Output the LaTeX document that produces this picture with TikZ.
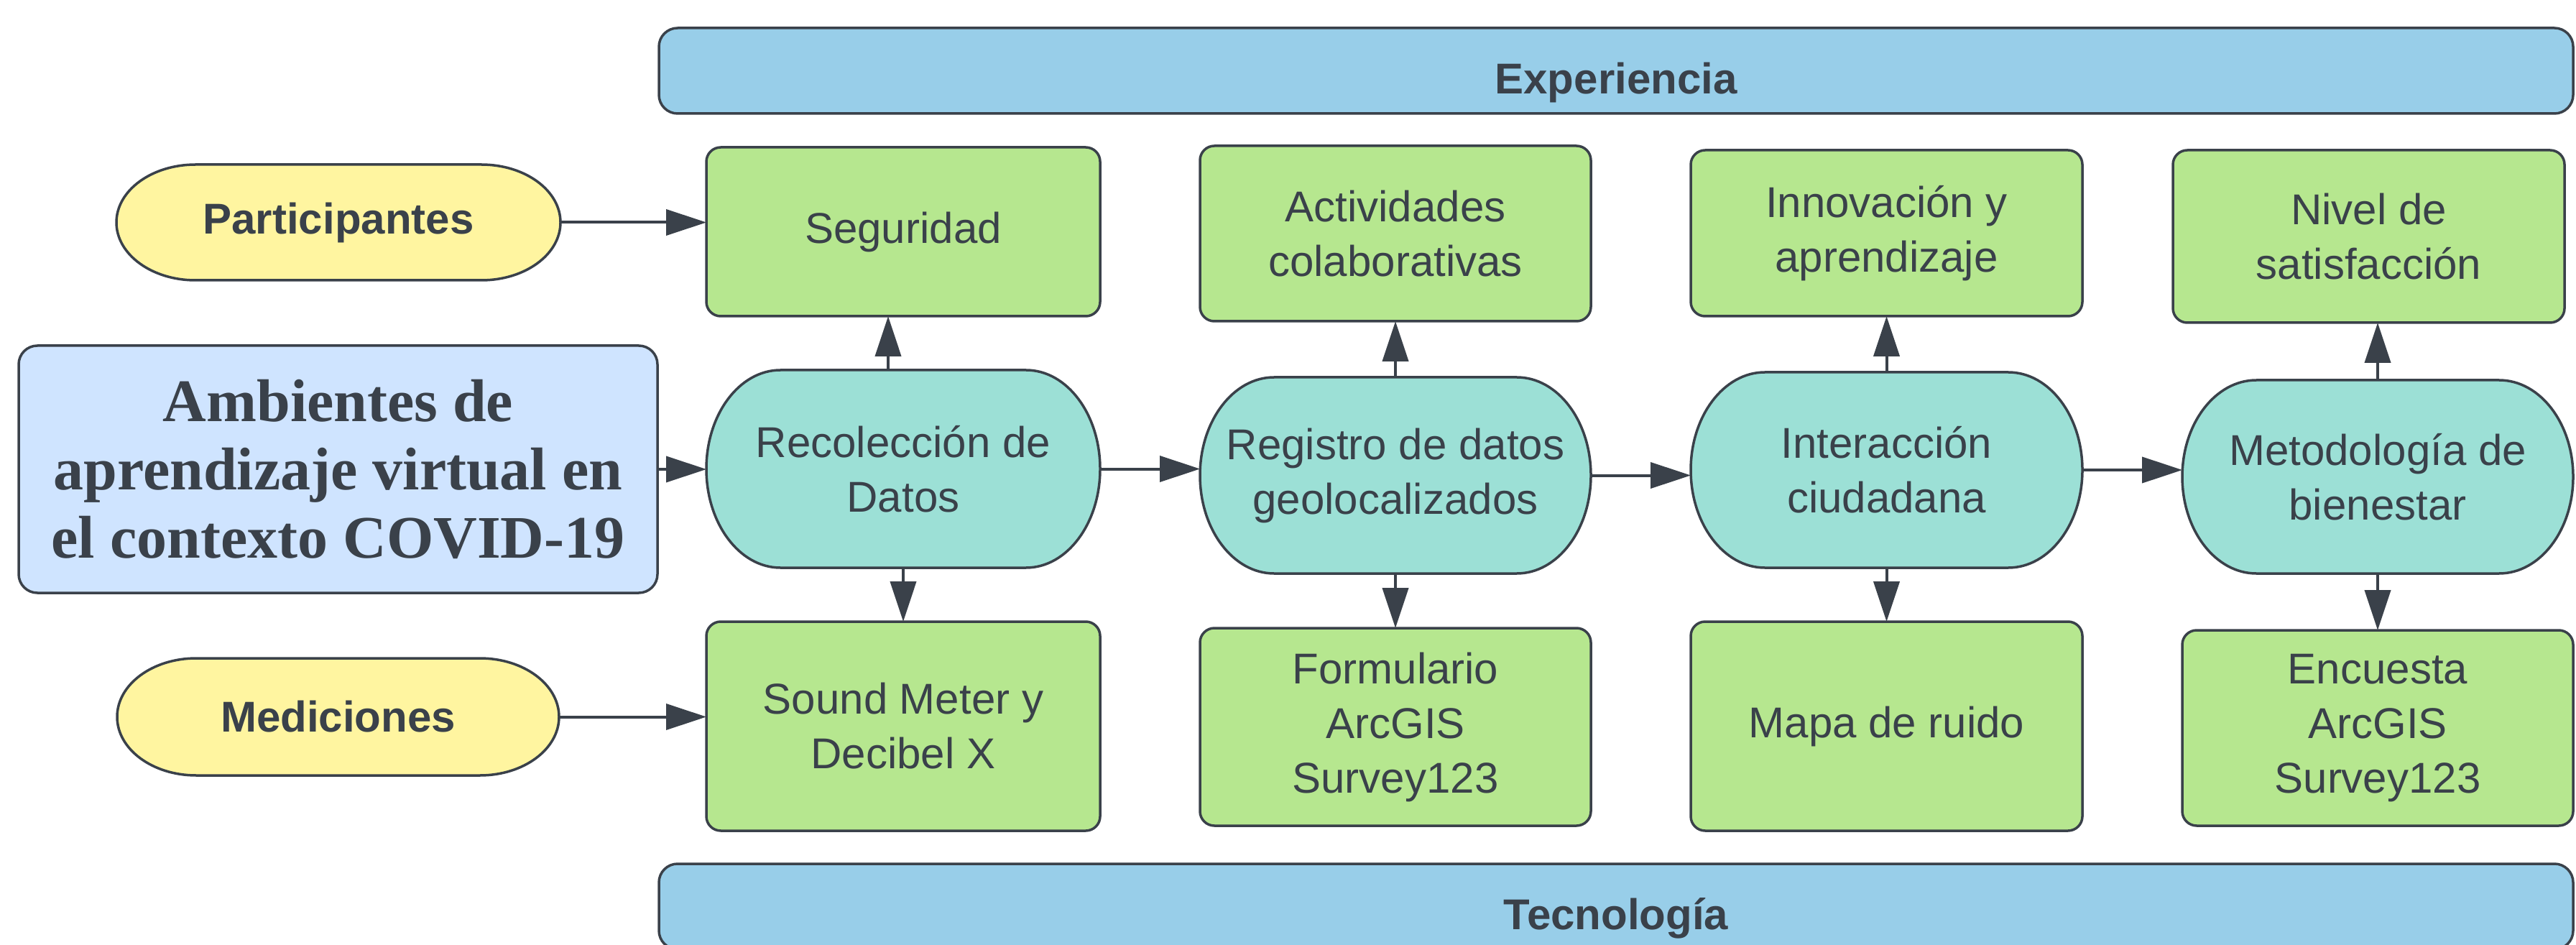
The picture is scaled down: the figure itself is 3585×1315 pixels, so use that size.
\documentclass[tikz,border=0pt]{standalone}
\usepackage{fontspec}
\setmainfont{Liberation Sans}
\newfontfamily\ambfont{Liberation Serif}
\usetikzlibrary{arrows.meta,backgrounds}
\definecolor{edge}{HTML}{3A414A}
\definecolor{barblue}{HTML}{98CEE9}
\definecolor{boxgreen}{HTML}{B6E78F}
\definecolor{lensteal}{HTML}{9CE0D6}
\definecolor{pillyellow}{HTML}{FFF5A0}
\definecolor{ambblue}{HTML}{CFE4FF}
\newcommand\lensbg[4]{%
  \begin{scope}[on background layer]
    \path[draw=edge, line width=1.75pt, fill=#4]
      ([xshift=#2]#1.north west) -- ([xshift=-#2]#1.north east)
      arc[start angle=90, end angle=-90, x radius=#2, y radius=#3]
      -- ([xshift=#2]#1.south west)
      arc[start angle=270, end angle=90, x radius=#2, y radius=#3] -- cycle;
  \end{scope}}
\tikzset{
  every node/.style={text=edge, font=\fontsize{30}{38}\selectfont, align=center, outer sep=0pt, inner sep=2pt},
  greenbox/.style={draw=edge, line width=1.75pt, fill=boxgreen, rounded corners=10pt},
  bar/.style={draw=edge, line width=1.75pt, fill=barblue, rounded corners=13pt, minimum width=1332pt, minimum height=59.5pt, font=\bfseries\fontsize{30}{38}\selectfont, text height=32.4pt, text depth=0pt},
  lens/.style={minimum width=272pt},
  pill/.style={font=\bfseries\fontsize{30}{38}\selectfont},
  amb/.style={draw=edge, line width=1.75pt, fill=ambblue, rounded corners=13pt, font=\ambfont\bfseries\fontsize{42}{47.5}\selectfont},
  arr/.style={draw=edge, line width=2pt, -{Triangle[length=28pt,width=18pt]}},
}
\begin{document}
\begin{tikzpicture}[x=0.5pt, y=-0.5pt]
\useasboundingbox (0,0) rectangle (3585,1315);
% bars
\node[bar] (exp) at (2249,98.5) {Experiencia};
\node[bar] (tec) at (2249,1261.5) {Tecnología};
% left column
\node[amb, minimum width=444.5pt, minimum height=172pt] (amb) at (470.5,653) {Ambientes de\\aprendizaje virtual en\\el contexto COVID-19};
\node[pill, minimum width=309pt, minimum height=80.5pt] (part) at (471,309.5) {Participantes};
\lensbg{part}{55pt}{40.25pt}{pillyellow}
\node[pill, minimum width=307.5pt, minimum height=81.5pt] (med) at (470.5,997.5) {Mediciones};
\lensbg{med}{55pt}{40.75pt}{pillyellow}
% column 1
\node[greenbox, minimum width=274pt, minimum height=117.5pt] (seg) at (1257,322.5) {Seguridad};
\node[lens, minimum width=274pt, minimum height=137.5pt] (rec) at (1257,652.5) {Recolección de\\Datos};
\lensbg{rec}{51.5pt}{68.75pt}{lensteal}
\node[greenbox, minimum width=274pt, minimum height=145.5pt] (snd) at (1257,1010.5) {Sound Meter y\\Decibel X};
% column 2
\node[greenbox, minimum width=272pt, minimum height=122pt] (act) at (1942,325) {Actividades\\colaborativas};
\node[lens, minimum height=136.5pt] (reg) at (1942,661.5) {Registro de datos\\geolocalizados};
\lensbg{reg}{51.5pt}{68.25pt}{lensteal}
\node[greenbox, minimum width=272pt, minimum height=137.5pt] (form) at (1942,1011.5) {Formulario\\ArcGIS\\Survey123};
% column 3
\node[greenbox, minimum width=272.5pt, minimum height=115.5pt] (inn) at (2625.5,324.5) {Innovación y\\aprendizaje};
\node[lens, minimum width=272.5pt, minimum height=136pt] (int) at (2625.5,654) {Interacción\\ciudadana};
\lensbg{int}{51.5pt}{68pt}{lensteal}
\node[greenbox, minimum width=272.5pt, minimum height=145.5pt] (mapa) at (2625.5,1010.5) {Mapa de ruido};
% column 4
\node[greenbox, minimum width=272.5pt, minimum height=120pt] (niv) at (3296.5,329) {Nivel de\\satisfacción};
\node[lens, minimum height=134.5pt] (met) at (3309,663.5) {Metodología de\\bienestar};
\lensbg{met}{51.5pt}{67.25pt}{lensteal}
\node[greenbox, minimum width=272pt, minimum height=136pt] (enc) at (3309,1013) {Encuesta\\ArcGIS\\Survey123};
% horizontal arrows
\draw[arr] (part.east) -- (part.east -| seg.west);
\draw[arr] (med.east) -- (med.east -| snd.west);
\draw[arr] (amb.east) -- (amb.east -| rec.west);
\draw[arr] (rec.east) -- (rec.east -| reg.west);
\draw[arr] (reg.east) -- (reg.east -| int.west);
\draw[arr] (int.east) -- (int.east -| met.west);
% vertical arrows
\draw[arr] ([xshift=-10.5pt]rec.north) -- ([xshift=-10.5pt]seg.south);
\draw[arr] (rec.south) -- (snd.north);
\draw[arr] (reg.north) -- (act.south);
\draw[arr] (reg.south) -- (form.north);
\draw[arr] (int.north) -- (inn.south);
\draw[arr] (int.south) -- (mapa.north);
\draw[arr] (met.north) -- (met.north |- niv.south);
\draw[arr] (met.south) -- (enc.north);
\end{tikzpicture}
\end{document}
